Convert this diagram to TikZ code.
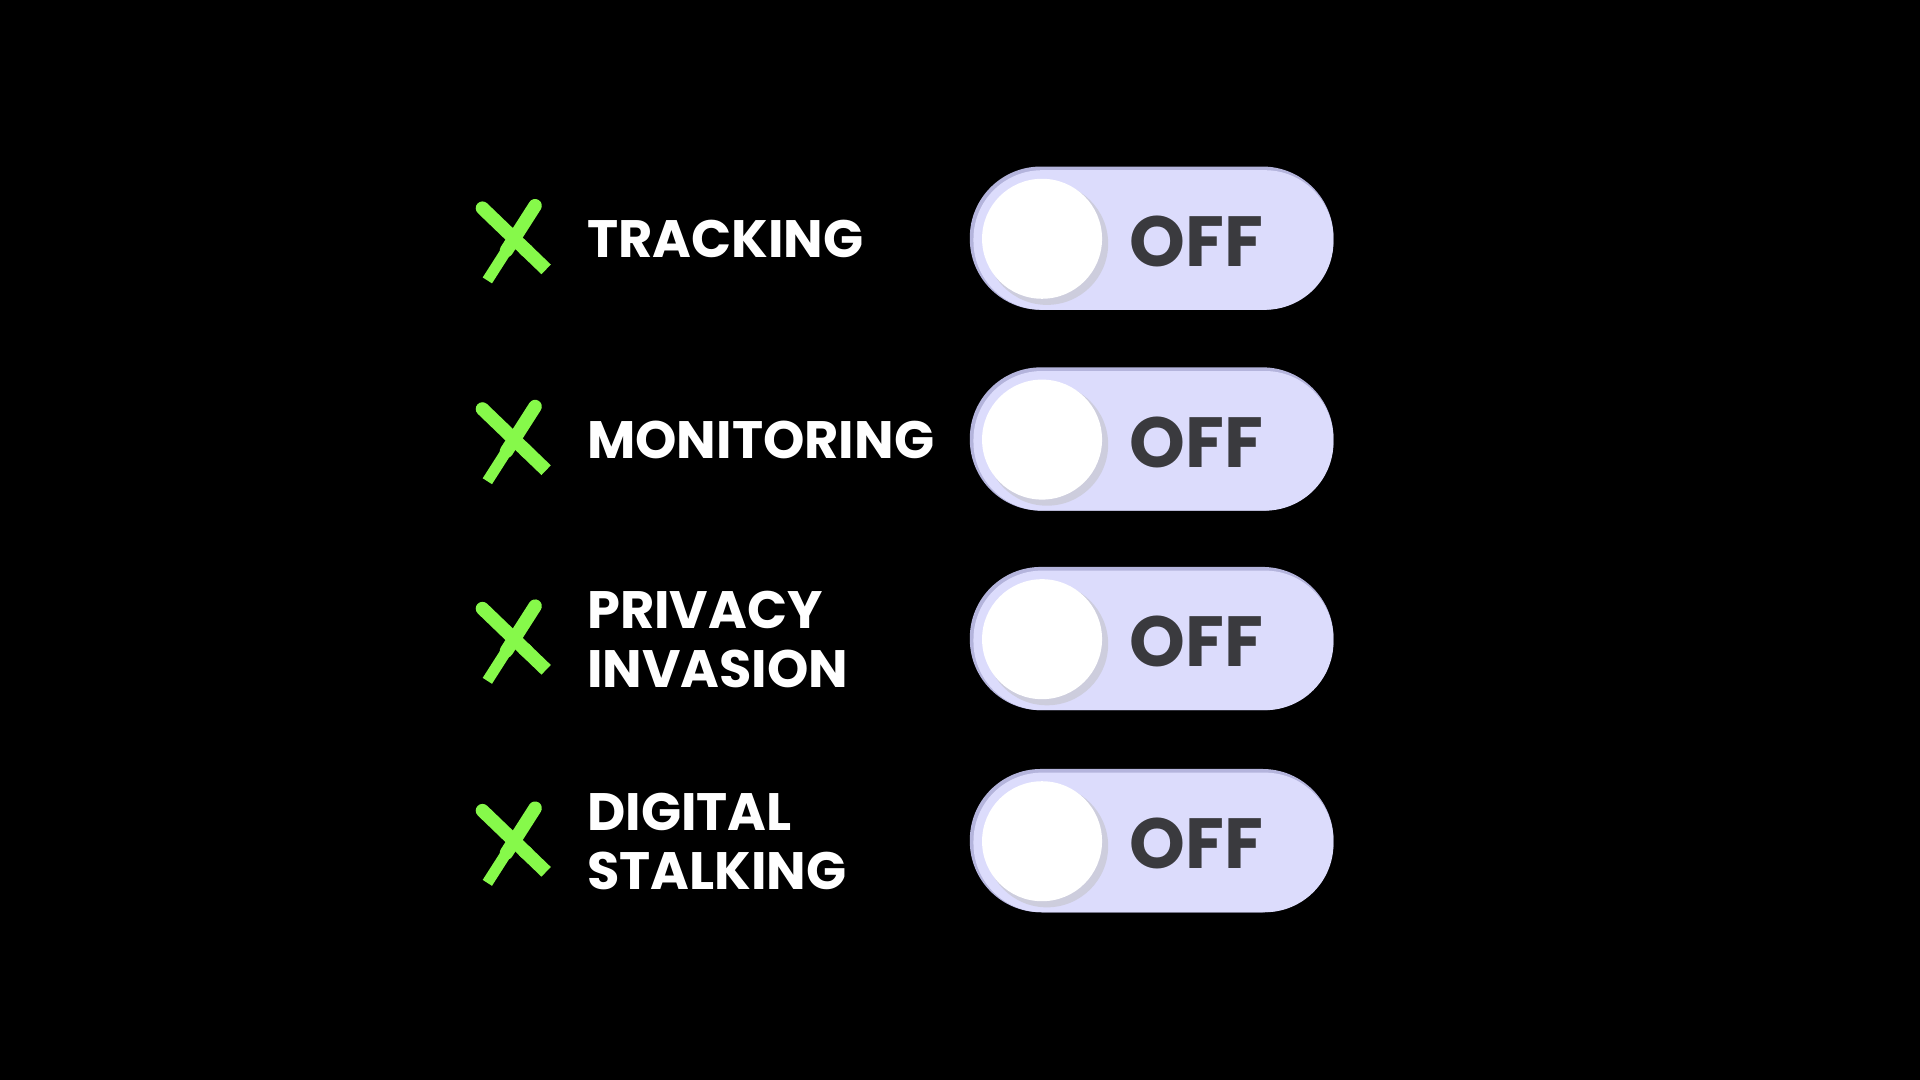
\documentclass[tikz,border=0pt]{standalone}
\usepackage{fontspec}
\setmainfont{Poppins}
\usetikzlibrary{calc}
\begin{document}
\begin{tikzpicture}[x=1pt,y=-1pt,
  lbl/.style={anchor=west,text=white,font=\fontsize{43}{48}\selectfont\bfseries,align=left},
  offt/.style={anchor=west,text=offgray,font=\fontsize{58}{60}\selectfont\bfseries},
  xs/.style={line width=11pt,draw=xgreen}]
\definecolor{xgreen}{HTML}{86F94A}
\definecolor{lav}{HTML}{DCDCFC}
\definecolor{lavd}{HTML}{B4B4DC}
\definecolor{offgray}{HTML}{3A3A3E}
\fill[black] (0,0) rectangle (1568,882);
\useasboundingbox (0,0) rectangle (1568,882);
\foreach \y/\t [count=\i] in {195/TRACKING,359/MONITORING,522/{PRIVACY\\INVASION},687/{DIGITAL\\STALKING}}{
  \coordinate (a\i) at (394,\y-25);
  \coordinate (b\i) at (446,\y+25);
  \coordinate (c\i) at (437,\y-27);
  \coordinate (d\i) at (398,\y+34);
  \draw[xs,line cap=round] (a\i) -- ($(a\i)!0.7!(b\i)$);
  \draw[xs] ($(a\i)!0.65!(b\i)$) -- (b\i);
  \draw[xs,line cap=round] (c\i) -- ($(c\i)!0.6!(d\i)$);
  \draw[draw=xgreen,line width=9pt] ($(c\i)!0.55!(d\i)$) -- (d\i);
  \node[lbl] (l\i) at (476,\y) {\t};
  \fill[lavd, rounded corners=58pt] (792,\y-59) rectangle (1089,\y+58);
  \fill[lav, rounded corners=56pt] (795,\y-56) rectangle (1089,\y+58);
  \fill[black!25,opacity=0.5] (855,\y+4) circle (50);
  \fill[white] (851,\y) circle (49);
  \node[offt] (o\i) at (919,\y+2) {OFF};
}
\end{tikzpicture}
\end{document}
